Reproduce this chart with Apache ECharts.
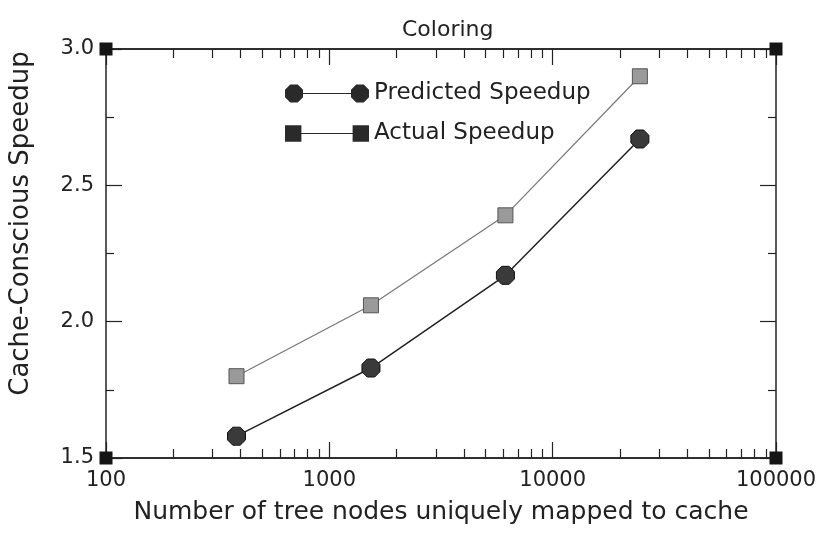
<!DOCTYPE html>
<html>
<head>
<meta charset="utf-8">
<script src="https://cdn.jsdelivr.net/npm/echarts@6/dist/echarts.min.js"></script>
<style>html,body{margin:0;padding:0;background:#fff;}#c{width:824px;height:542px;}</style>
</head>
<body>
<div id="c"></div>
<script>
const nodes = [384, 1536, 6144, 24576];
const predicted = [1.58, 1.83, 2.17, 2.67];
const actual = [1.80, 2.06, 2.39, 2.90];
const xMajorTicks = [100, 1000, 10000, 100000];
const xMinorTicks = [200,300,400,500,600,700,800,900,2000,3000,4000,5000,6000,7000,8000,9000,20000,30000,40000,50000,60000,70000,80000,90000];
const cornerX = [100, 100000, 100, 100000];
const cornerY = [3.0, 3.0, 1.5, 1.5];

const FONT = 'DejaVu Sans';
const octagon = 'path://M0,5.27L5.27,0L12.73,0L18,5.27L18,12.73L12.73,18L5.27,18L0,12.73Z';
const legendPred = 'path://M0,5.27L5.27,0L12.73,0L18,5.27L18,12.73L12.73,18L5.27,18L0,12.73Z M18,8.5L66,8.5L66,9.5L18,9.5Z M66,5.27L71.27,0L78.73,0L84,5.27L84,12.73L78.73,18L71.27,18L66,12.73Z';
const legendAct = 'path://M1,1L17,1L17,17L1,17Z M17,8.5L67,8.5L67,9.5L17,9.5Z M67,1L83,1L83,17L67,17Z';

const axisLineStyle = {color: '#222', width: 1.5};
function xAxisDef(position, ticks, len, showLabel) {
  return {
    type: 'log', logBase: 10, min: 100, max: 100000, position: position,
    axisLine: {show: true, onZero: false, lineStyle: axisLineStyle},
    axisTick: {show: true, inside: true, length: len, customValues: ticks, lineStyle: {color: '#222', width: 1.2}},
    axisLabel: showLabel ? {show: true, customValues: xMajorTicks, margin: 12, fontFamily: FONT, fontSize: 21, color: '#222', formatter: v => String(Math.round(v))} : {show: false},
    splitLine: {show: false}, minorTick: {show: false}
  };
}
function yAxisDef(position, showLabel) {
  return {
    type: 'value', min: 1.5, max: 3.0, interval: 0.5, position: position,
    axisLine: {show: true, onZero: false, lineStyle: axisLineStyle},
    axisTick: {show: true, inside: true, length: 16, lineStyle: {color: '#222', width: 1.2}},
    minorTick: {show: true, splitNumber: 2, length: 8, lineStyle: {color: '#222', width: 1.2}},
    axisLabel: showLabel ? {show: true, margin: 12, fontFamily: FONT, fontSize: 21, color: '#222', formatter: v => v.toFixed(1)} : {show: false},
    splitLine: {show: false}
  };
}

const xa0 = xAxisDef('bottom', xMajorTicks, 16, true);
xa0.name = 'Number of tree nodes uniquely mapped to cache';
xa0.nameLocation = 'middle';
xa0.nameGap = 42;
xa0.nameTextStyle = {fontFamily: FONT, fontSize: 25, color: '#222'};
const ya0 = yAxisDef('left', true);
ya0.name = 'Cache-Conscious Speedup';
ya0.nameLocation = 'middle';
ya0.nameGap = 72;
ya0.nameTextStyle = {fontFamily: FONT, fontSize: 26, color: '#222', padding: [0, 0, 0, 60]};

const option = {
  backgroundColor: '#fff',
  animation: false,
  title: {text: 'Coloring', left: 397, top: 14, textStyle: {fontFamily: FONT, fontSize: 22, fontWeight: 'normal', color: '#222'}},
  grid: {left: 106, right: 48, top: 49, bottom: 84, containLabel: false},
  legend: {
    orient: 'vertical', left: 280, top: 77, itemWidth: 84, itemHeight: 18, itemGap: 17, selectedMode: false,
    textStyle: {fontFamily: FONT, fontSize: 23, color: '#222', lineHeight: 18},
    data: [
      {name: 'Predicted Speedup', icon: legendPred, itemStyle: {color: '#2a2a2a', borderWidth: 0}},
      {name: 'Actual Speedup', icon: legendAct, itemStyle: {color: '#2a2a2a', borderWidth: 0}}
    ]
  },
  xAxis: [
    xa0,
    xAxisDef('bottom', xMinorTicks, 9, false),
    xAxisDef('top', xMajorTicks, 16, false),
    xAxisDef('top', xMinorTicks, 9, false)
  ],
  yAxis: [ya0, yAxisDef('right', false)],
  series: [
    {
      name: 'Predicted Speedup', type: 'line', xAxisIndex: 0, yAxisIndex: 0,
      data: nodes.map((n, i) => [n, predicted[i]]),
      symbol: octagon, symbolSize: 18,
      lineStyle: {color: '#222', width: 1.5},
      itemStyle: {color: '#3a3a3a', borderColor: '#111', borderWidth: 1}
    },
    {
      name: 'Actual Speedup', type: 'line', xAxisIndex: 0, yAxisIndex: 0,
      data: nodes.map((n, i) => [n, actual[i]]),
      symbol: 'rect', symbolSize: 15,
      lineStyle: {color: '#777', width: 1.2},
      itemStyle: {color: '#9a9a9a', borderColor: '#555', borderWidth: 1}
    },
    {
      name: 'corners', type: 'scatter', xAxisIndex: 0, yAxisIndex: 0, clip: false,
      data: cornerX.map((x, i) => [x, cornerY[i]]),
      symbol: 'rect', symbolSize: 13,
      itemStyle: {color: '#151515', opacity: 1}, z: 5
    }
  ]
};
echarts.init(document.getElementById('c'), null, {renderer: 'canvas'}).setOption(option);
</script>
</body>
</html>
